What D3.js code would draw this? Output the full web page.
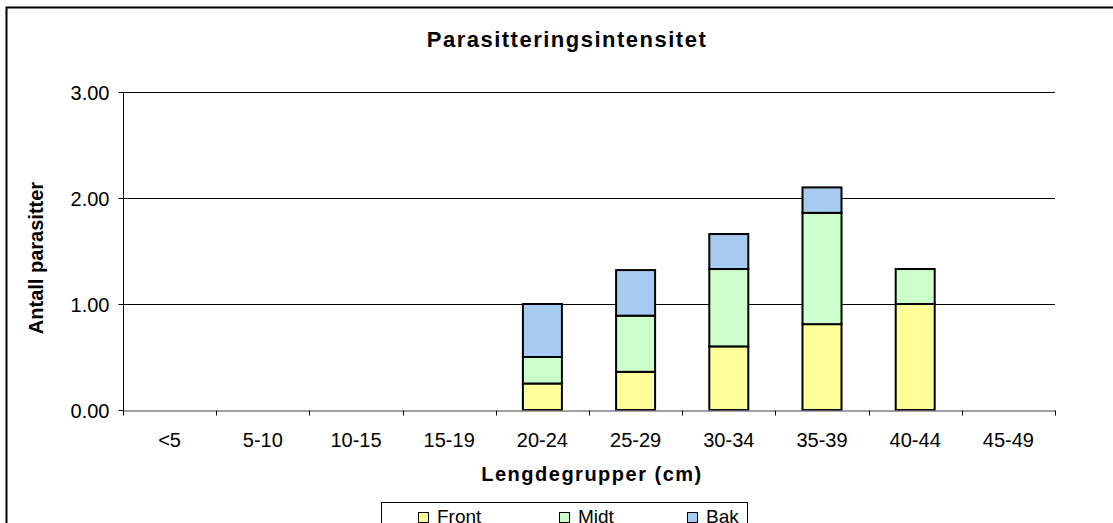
<!DOCTYPE html>
<html>
<head>
<meta charset="utf-8">
<script src="https://cdn.jsdelivr.net/npm/d3@7"></script>
<style>
body { margin: 0; background: #fff; }
text { font-family: "Liberation Sans", Arial, sans-serif; }
</style>
</head>
<body>
<div id="chart"></div>
<script>
var width = 1113;
var height = 523;
var margin = {top: 92, right: 58, bottom: 113, left: 123};

var categories = ["<5", "5-10", "10-15", "15-19", "20-24", "25-29", "30-34", "35-39", "40-44", "45-49"];
var front = [0, 0, 0, 0, 0.25, 0.36, 0.60, 0.81, 1.00, 0];
var midt  = [0, 0, 0, 0, 0.25, 0.53, 0.73, 1.05, 0.33, 0];
var bak   = [0, 0, 0, 0, 0.50, 0.43, 0.33, 0.24, 0.00, 0];
var seriesNames = ["Front", "Midt", "Bak"];
var colors = ["#ffff99", "#ccffcc", "#a6caf0"];
var yTicks = [0, 1, 2, 3];

var rows = categories.map(function (c, i) {
	return {cat: c, Front: front[i], Midt: midt[i], Bak: bak[i]};
});
var stacked = d3.stack().keys(seriesNames)(rows);

var svg = d3.select("#chart")
	.append("svg")
		.attr("width", width)
		.attr("height", height);

// outer chart border (runs off the picture right and bottom)
svg.append("rect")
	.attr("x", 6.5).attr("y", 7.5)
	.attr("width", width + 20).attr("height", height + 20)
	.attr("fill", "none")
	.attr("stroke", "#000")
	.attr("stroke-width", 2);

var x = d3.scaleBand()
	.domain(categories)
	.range([margin.left, width - margin.right]);

var y = d3.scaleLinear()
	.domain([0, 3])
	.range([height - margin.bottom, margin.top]);

// gridlines
svg.append("g")
	.selectAll("line")
	.data(yTicks.slice(1))
	.enter()
		.append("line")
			.attr("x1", margin.left)
			.attr("x2", width - margin.right)
			.attr("y1", function (d) { return Math.round(y(d)) + 0.5; })
			.attr("y2", function (d) { return Math.round(y(d)) + 0.5; })
			.attr("stroke", "#000")
			.attr("stroke-width", 1);

// bars
var barW = 39;
svg.append("g")
	.selectAll("g")
	.data(stacked)
	.enter()
		.append("g")
			.attr("fill", function (d, i) { return colors[i]; })
		.selectAll("rect")
		.data(function (d) { return d.filter(function (p) { return p[1] - p[0] > 0; }); })
		.enter()
			.append("rect")
				.attr("x", function (d) { return x(d.data.cat) + x.bandwidth() / 2 - barW / 2; })
				.attr("width", barW)
				.attr("y", function (d) { return y(d[1]); })
				.attr("height", function (d) { return y(d[0]) - y(d[1]); })
				.attr("stroke", "#000")
				.attr("stroke-width", 2);

// y axis
var yAxis = svg.append("g")
	.attr("transform", "translate(" + (margin.left + 0.5) + ",0)")
	.call(d3.axisLeft(y).tickValues(yTicks).tickSize(5).tickFormat(d3.format(".2f")));
yAxis.select(".domain").attr("stroke", "#000").attr("d", "M-0," + y(3) + "V" + y(0));
yAxis.selectAll("text").attr("font-size", 20).attr("fill", "#000")
	.attr("font-family", "Liberation Sans, Arial, sans-serif").attr("dx", "-6").attr("dy", "0.36em");

// x axis
var xAxis = svg.append("g")
	.attr("transform", "translate(0," + (y(0) + 0.5) + ")")
	.call(d3.axisBottom(x).tickSize(0).tickPadding(22));
xAxis.select(".domain").attr("stroke", "#808080").attr("stroke-width", 1.5);
xAxis.selectAll("text").attr("font-size", 20).attr("fill", "#000")
	.attr("font-family", "Liberation Sans, Arial, sans-serif");
xAxis.selectAll(".tickmark")
	.data(categories.concat([""]))
	.enter()
		.append("line")
			.attr("class", "tickmark")
			.attr("x1", function (d, i) { return Math.round(margin.left + i * x.step()) + 0.5; })
			.attr("x2", function (d, i) { return Math.round(margin.left + i * x.step()) + 0.5; })
			.attr("y1", 0)
			.attr("y2", 5)
			.attr("stroke", "#000");

// titles
svg.append("text")
	.attr("x", 567).attr("y", 47)
	.attr("text-anchor", "middle")
	.attr("font-size", 22).attr("font-weight", "bold")
	.attr("letter-spacing", "1.5")
	.text("Parasitteringsintensitet");

svg.append("text")
	.attr("x", 592).attr("y", 481)
	.attr("text-anchor", "middle")
	.attr("font-size", 20).attr("font-weight", "bold")
	.attr("letter-spacing", "1.5")
	.text("Lengdegrupper (cm)");

svg.append("text")
	.attr("transform", "translate(43,258) rotate(-90)")
	.attr("text-anchor", "middle")
	.attr("font-size", 20).attr("font-weight", "bold")
	.text("Antall parasitter");

// legend
var legend = svg.append("g");
legend.append("rect")
	.attr("x", 381.5).attr("y", 502.5)
	.attr("width", 366).attr("height", 40)
	.attr("fill", "#fff")
	.attr("stroke", "#000");
var legX = [418, 559, 687];
seriesNames.forEach(function (s, i) {
	legend.append("rect")
		.attr("x", legX[i] + 0.5).attr("y", 512.5)
		.attr("width", 10).attr("height", 10)
		.attr("fill", colors[i])
		.attr("stroke", "#000");
	legend.append("text")
		.attr("x", legX[i] + 19).attr("y", 523)
		.attr("font-size", 19)
		.text(s);
});
</script>
</body>
</html>
